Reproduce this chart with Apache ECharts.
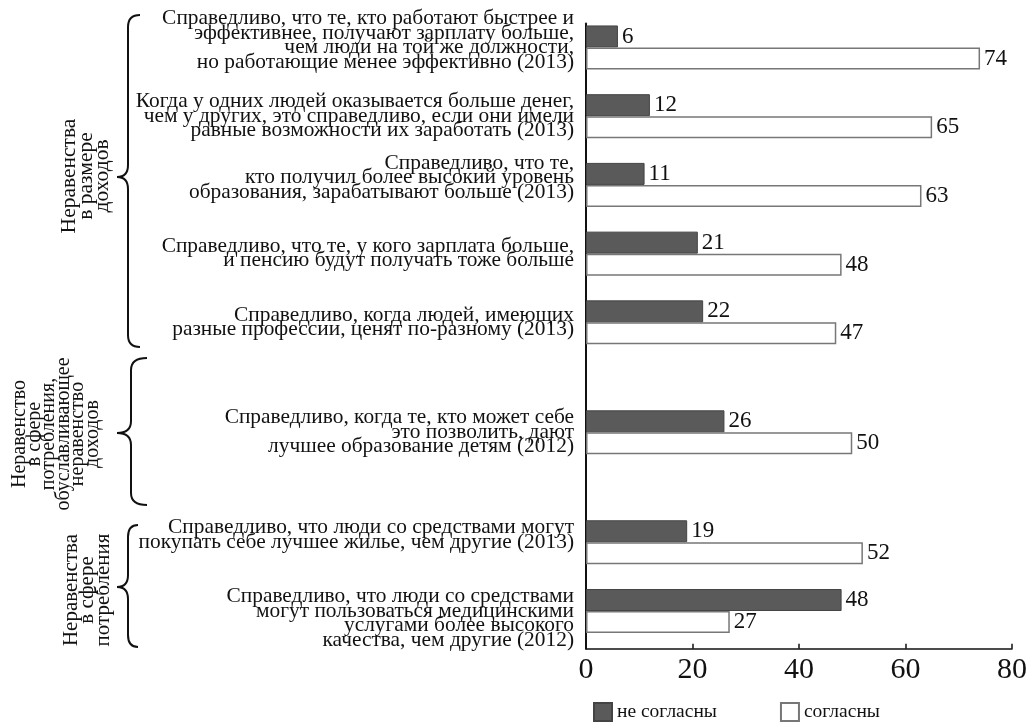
<!DOCTYPE html>
<html><head><meta charset="utf-8">
<script src="https://cdn.jsdelivr.net/npm/echarts@6/dist/echarts.min.js"></script>
<style>html,body{margin:0;padding:0;background:#fff}#c{width:1030px;height:723px}</style>
</head><body><div id="c"></div>
<script>
// ---- data ----
const categories = [
  'Справедливо, что те, кто работают быстрее и\nэффективнее, получают зарплату больше,\nчем люди на той же должности,\nно работающие менее эффективно (2013)',
  'Когда у одних людей оказывается больше денег,\nчем у других, это справедливо, если они имели\nравные возможности их заработать (2013)',
  'Справедливо, что те,\nкто получил более высокий уровень\nобразования, зарабатывают больше (2013)',
  'Справедливо, что те, у кого зарплата больше,\nи пенсию будут получать тоже больше',
  'Справедливо, когда людей, имеющих\nразные профессии, ценят по-разному (2013)',
  'Справедливо, когда те, кто может себе\nэто позволить, дают\nлучшее образование детям (2012)',
  'Справедливо, что люди со средствами могут\nпокупать себе лучшее жилье, чем другие (2013)',
  'Справедливо, что люди со средствами\nмогут пользоваться медицинскими\nуслугами более высокого\nкачества, чем другие (2012)'
];
const disagree = [6, 12, 11, 21, 22, 26, 19, 48];
const agree = [74, 65, 63, 48, 47, 50, 52, 27];
const seriesNames = ['не согласны', 'согласны'];
const xTicks = [0, 20, 40, 60, 80];
const groupTitles = [
  'Неравенства\nв размере\nдоходов',
  'Неравенство\nв сфере\nпотребления,\nобуславливающее\nнеравенство\nдоходов',
  'Неравенства\nв сфере\nпотребления'
];

// ---- layout (not data) ----
const SLOT_COUNT = 91;
const rowSlot = [3, 13, 23, 33, 43, 59, 75, 85];
const labelShift = [-1, 0, -1, 0, 0, 0, -1, 1];
const FONT = '"Liberation Serif", "Times New Roman", serif';

const slots = Array.from({length: SLOT_COUNT}, (_, i) => 's' + i);
const dData = new Array(SLOT_COUNT).fill(null);
const aData = new Array(SLOT_COUNT).fill(null);
rowSlot.forEach((s, i) => { dData[s] = disagree[i]; aData[s] = agree[i]; });

const LS = {stroke: '#111', lineWidth: 2, fill: 'none'};
function brace(top, bottom, cy, vx, hx, cx) {
  const r = 12;
  return [
    {type: 'bezierCurve', shape: {x1: hx, y1: top, cpx1: vx, cpy1: top, x2: vx, y2: top + r}, style: LS},
    {type: 'line', shape: {x1: vx, y1: top + r, x2: vx, y2: cy - r}, style: LS},
    {type: 'bezierCurve', shape: {x1: vx, y1: cy - r, cpx1: vx, cpy1: cy, x2: cx, y2: cy}, style: LS},
    {type: 'bezierCurve', shape: {x1: cx, y1: cy, cpx1: vx, cpy1: cy, x2: vx, y2: cy + r}, style: LS},
    {type: 'line', shape: {x1: vx, y1: cy + r, x2: vx, y2: bottom - r}, style: LS},
    {type: 'bezierCurve', shape: {x1: vx, y1: bottom - r, cpx1: vx, cpy1: bottom, x2: hx, y2: bottom}, style: LS}
  ];
}

const chart = echarts.init(document.getElementById('c'));
const labelStyle = {show: true, position: 'right', distance: 4, fontSize: 23, fontFamily: FONT, color: '#111'};
chart.setOption({
  animation: false,
  backgroundColor: '#fff',
  grid: {left: 586, right: 16, top: 23.4, height: 625.4},
  legend: {
    data: seriesNames, left: 588, top: 697, itemWidth: 18, itemHeight: 18, itemGap: 63,
    icon: 'rect',
    textStyle: {fontSize: 19.5, fontFamily: FONT, color: '#111'}
  },
  xAxis: {
    type: 'value', min: xTicks[0], max: xTicks[xTicks.length - 1], interval: xTicks[1] - xTicks[0],
    axisLine: {show: true, lineStyle: {color: '#111', width: 1.5}},
    axisTick: {show: true, inside: true, length: 5, lineStyle: {color: '#111', width: 1.5}},
    splitLine: {show: false},
    axisLabel: {fontSize: 30, fontFamily: FONT, color: '#111', margin: 6}
  },
  yAxis: {
    type: 'category', inverse: true, data: slots,
    axisLine: {show: true, lineStyle: {color: '#111', width: 2}},
    axisTick: {show: false},
    axisLabel: {
      interval: 0, margin: 12, fontSize: 21.4, lineHeight: 14.5, fontFamily: FONT, color: '#111', align: 'right',
      formatter: function (v, idx) {
        const r = rowSlot.indexOf(idx);
        if (r < 0) return '';
        let t = categories[r];
        if (labelShift[r] < 0) t = t + '\n ';
        if (labelShift[r] > 0) t = ' \n' + t;
        return t;
      }
    }
  },
  series: [
    {name: seriesNames[0], type: 'bar', data: dData, barWidth: 22, barGap: '0%',
     itemStyle: {color: '#5a5a5a', borderColor: '#444', borderWidth: 1}, label: labelStyle},
    {name: seriesNames[1], type: 'bar', data: aData, barWidth: 22, barGap: '0%',
     itemStyle: {color: '#fff', borderColor: '#777', borderWidth: 1.5}, label: labelStyle}
  ],
  graphic: [].concat(
    brace(15, 347, 177, 128, 140, 117),
    brace(358, 505, 433, 131, 147, 117),
    brace(525, 647, 587, 128, 138, 117),
    [
      {type: 'text', x: 86, y: 176, rotation: Math.PI / 2, style: {text: groupTitles[0], font: '21.5px ' + FONT, fill: '#111', align: 'center', verticalAlign: 'middle', lineHeight: 16.5}},
      {type: 'text', x: 56, y: 434, rotation: Math.PI / 2, style: {text: groupTitles[1], font: '20px ' + FONT, fill: '#111', align: 'center', verticalAlign: 'middle', lineHeight: 14.5}},
      {type: 'text', x: 87, y: 590, rotation: Math.PI / 2, style: {text: groupTitles[2], font: '21px ' + FONT, fill: '#111', align: 'center', verticalAlign: 'middle', lineHeight: 16}}
    ]
  )
});
</script>
</body></html>
